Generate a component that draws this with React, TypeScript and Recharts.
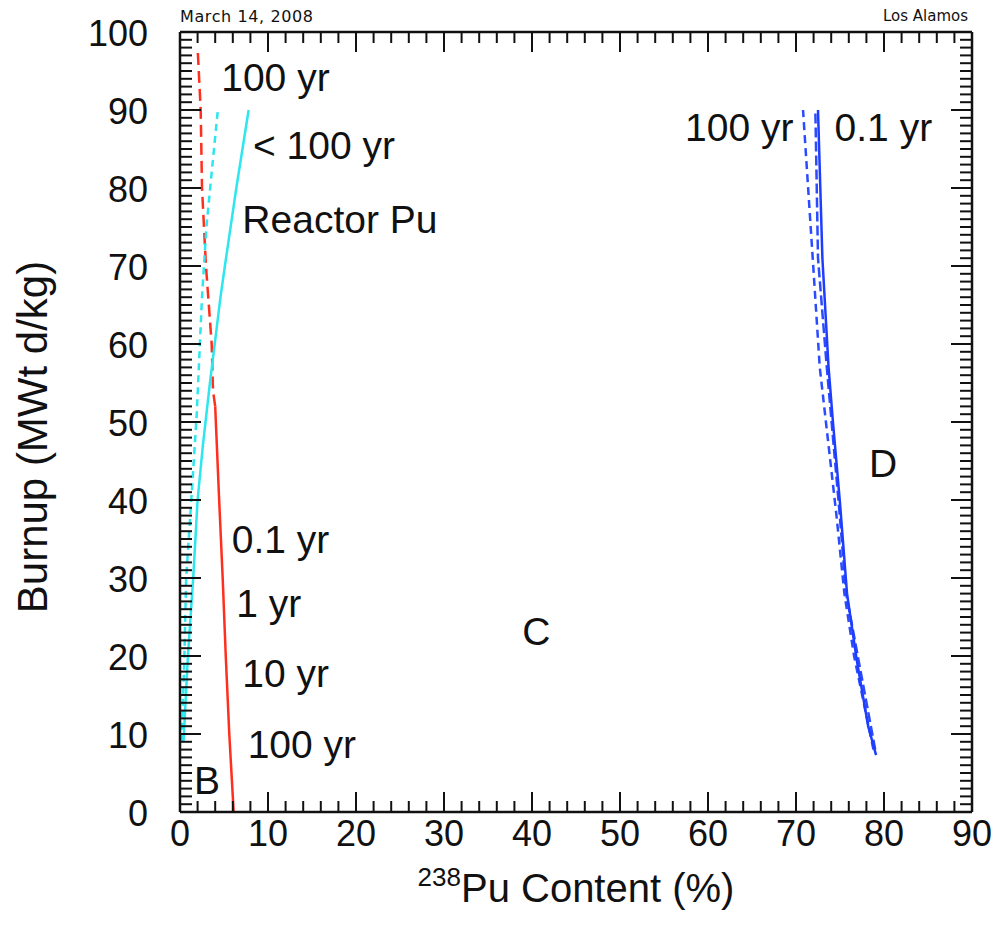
import React from "react";
import { LineChart, Line, XAxis, YAxis, ReferenceDot } from "recharts";

// major tick labels; minor ticks are filled in between
const xMajorTicks = [0, 10, 20, 30, 40, 50, 60, 70, 80, 90];
const yMajorTicks = [0, 10, 20, 30, 40, 50, 60, 70, 80, 90, 100];

// Pu-238 content (%) vs burnup (MWt d/kg)
const redSolid = [
  { x: 6.1, y: 0 },
  { x: 5.6, y: 10 },
  { x: 5.2, y: 20 },
  { x: 4.85, y: 30 },
  { x: 4.45, y: 40 },
  { x: 4.0, y: 52 },
];
const redDashed = [
  { x: 4.0, y: 52 },
  { x: 3.75, y: 54 },
  { x: 3.6, y: 60 },
  { x: 2.95, y: 70 },
  { x: 2.5, y: 80 },
  { x: 2.35, y: 90 },
  { x: 2.0, y: 98 },
];
const cyanSolid = [
  { x: 0.4, y: 9 },
  { x: 0.9, y: 20 },
  { x: 1.5, y: 30 },
  { x: 2.0, y: 40 },
  { x: 2.6, y: 47 },
  { x: 3.4, y: 55 },
  { x: 4.6, y: 66 },
  { x: 5.1, y: 70 },
  { x: 6.4, y: 80 },
  { x: 7.8, y: 90 },
];
const cyanDashed = [
  { x: 0.2, y: 9 },
  { x: 0.5, y: 20 },
  { x: 0.7, y: 30 },
  { x: 1.4, y: 42 },
  { x: 1.9, y: 51 },
  { x: 2.1, y: 56 },
  { x: 2.5, y: 66 },
  { x: 3.0, y: 75 },
  { x: 3.6, y: 82 },
  { x: 4.3, y: 90 },
];
const blueSolid = [
  { x: 79.1, y: 7.3 },
  { x: 78.2, y: 11 },
  { x: 76.9, y: 19.5 },
  { x: 75.8, y: 28 },
  { x: 75.0, y: 39.6 },
  { x: 74.2, y: 50 },
  { x: 73.7, y: 57 },
  { x: 73.0, y: 71 },
  { x: 72.5, y: 90 },
];
const blueDashed100 = [
  { x: 78.8, y: 8 },
  { x: 76.6, y: 20 },
  { x: 75.5, y: 28 },
  { x: 74.6, y: 38 },
  { x: 73.9, y: 45 },
  { x: 72.7, y: 57 },
  { x: 71.9, y: 71 },
  { x: 70.8, y: 90 },
];
const blueDashedMid = [
  { x: 79.0, y: 8 },
  { x: 75.7, y: 28 },
  { x: 74.9, y: 39 },
  { x: 73.5, y: 57 },
  { x: 72.5, y: 71 },
  { x: 72.2, y: 90 },
];

// text annotations, anchored at their left edge (data coords)
const annotations = [
  { x: 4.8, y: 94.2, text: "100 yr" },
  { x: 8.4, y: 85.5, text: "< 100 yr" },
  { x: 7.2, y: 75.9, text: "Reactor Pu" },
  { x: 6.0, y: 34.9, text: "0.1 yr" },
  { x: 6.5, y: 26.7, text: "1 yr" },
  { x: 7.2, y: 17.8, text: "10 yr" },
  { x: 7.8, y: 8.6, text: "100 yr" },
  { x: 1.7, y: 4.1, text: "B" },
  { x: 39, y: 23.1, text: "C" },
  { x: 78.4, y: 44.7, text: "D" },
  { x: 57.5, y: 87.7, text: "100 yr" },
  { x: 74.5, y: 87.7, text: "0.1 yr" },
];

const xTicks = Array.from({ length: 46 }, (_, i) => i * 2);
const yTicks = Array.from({ length: 101 }, (_, i) => i);

const FONT = "'Liberation Sans', Arial, sans-serif";
const SMALL_FONT = "'DejaVu Sans', sans-serif";
const INK = "#111";
const TICK = 36;
const NOTE = 39;

const BottomTick = ({ x, y, payload }: any) => {
  const major = xMajorTicks.includes(payload.value);
  return (
    <g>
      <line x1={x} y1={y} x2={x} y2={y - (major ? 20 : 11)} stroke={INK} strokeWidth={2} />
      {major && (
        <text x={x} y={y + 21} textAnchor="middle" dominantBaseline="central" fontFamily={FONT} fontSize={TICK} fill={INK}>
          {payload.value}
        </text>
      )}
    </g>
  );
};

const TopTick = ({ x, y, payload }: any) => {
  const major = xMajorTicks.includes(payload.value);
  return <line x1={x} y1={y} x2={x} y2={y + (major ? 20 : 11)} stroke={INK} strokeWidth={2} />;
};

const LeftTick = ({ x, y, payload }: any) => {
  const major = yMajorTicks.includes(payload.value);
  return (
    <g>
      <line x1={x} y1={y} x2={x + (major ? 21 : 12)} y2={y} stroke={INK} strokeWidth={2} />
      {major && (
        <text x={x - 32} y={y + 1} textAnchor="end" dominantBaseline="central" fontFamily={FONT} fontSize={TICK} fill={INK}>
          {payload.value}
        </text>
      )}
    </g>
  );
};

const RightTick = ({ x, y, payload }: any) => {
  const major = yMajorTicks.includes(payload.value);
  return <line x1={x} y1={y} x2={x - (major ? 21 : 12)} y2={y} stroke={INK} strokeWidth={2} />;
};

const XTitle = ({ viewBox }: any) => {
  const cx = viewBox.x + viewBox.width / 2;
  return (
    <text x={cx} y={viewBox.y + 90} textAnchor="middle" fontFamily={FONT} fontSize={40} fill={INK}>
      <tspan fontSize={26} dy={-16}>238</tspan>
      <tspan dy={16}>Pu Content (%)</tspan>
    </text>
  );
};

const YTitle = ({ viewBox }: any) => {
  const cx = 32;
  const cy = viewBox.y + viewBox.height / 2 + 15;
  return (
    <text x={cx} y={cy} transform={`rotate(-90 ${cx} ${cy})`} textAnchor="middle" dominantBaseline="central" fontFamily={FONT} fontSize={42} fill={INK}>
      Burnup (MWt d/kg)
    </text>
  );
};

const series = [
  { data: redSolid, color: "#ff2f1f", dash: undefined },
  { data: redDashed, color: "#ff2f1f", dash: "12 6" },
  { data: cyanDashed, color: "#2ee6ee", dash: "7 5" },
  { data: cyanSolid, color: "#2ee6ee", dash: undefined },
  { data: blueDashed100, color: "#2a4bff", dash: "8 5" },
  { data: blueDashedMid, color: "#2a4bff", dash: "10 4" },
  { data: blueSolid, color: "#1f3dff", dash: undefined },
];

export default function App() {
  return (
    <div style={{ position: "absolute", left: 0, top: 0, width: 995, height: 941, background: "#fff" }}>
      <div style={{ position: "absolute", left: 180, top: 7, fontFamily: SMALL_FONT, fontSize: 16, letterSpacing: 0.6, color: INK }}>
        March 14, 2008
      </div>
      <div style={{ position: "absolute", right: 27, top: 7, fontFamily: SMALL_FONT, fontSize: 15, color: INK }}>
        Los Alamos
      </div>
      <LineChart width={995} height={941} margin={{ top: 31, right: 22, bottom: 29, left: 20 }}>
        <XAxis
          xAxisId="b"
          type="number"
          dataKey="x"
          domain={[0, 90]}
          ticks={xTicks}
          interval={0}
          tickSize={0}
          tickMargin={0}
          tick={<BottomTick />}
          height={100}
          axisLine={{ stroke: INK, strokeWidth: 2.5 }}
          allowDataOverflow
          label={<XTitle />}
        />
        <XAxis
          xAxisId="t"
          orientation="top"
          type="number"
          dataKey="x"
          domain={[0, 90]}
          ticks={xTicks}
          interval={0}
          tickSize={0}
          tickMargin={0}
          tick={<TopTick />}
          height={1}
          axisLine={{ stroke: INK, strokeWidth: 2.5 }}
          allowDataOverflow
        />
        <YAxis
          yAxisId="l"
          type="number"
          domain={[0, 100]}
          ticks={yTicks}
          interval={0}
          tickSize={0}
          tickMargin={0}
          tick={<LeftTick />}
          width={160}
          axisLine={{ stroke: INK, strokeWidth: 2.5 }}
          allowDataOverflow
          label={<YTitle />}
        />
        <YAxis
          yAxisId="r"
          orientation="right"
          type="number"
          domain={[0, 100]}
          ticks={yTicks}
          interval={0}
          tickSize={0}
          tickMargin={0}
          tick={<RightTick />}
          width={1}
          axisLine={{ stroke: INK, strokeWidth: 2.5 }}
          allowDataOverflow
        />
        {series.map((s, i) => (
          <Line
            key={i}
            xAxisId="b"
            yAxisId="l"
            data={s.data}
            dataKey="y"
            type="linear"
            stroke={s.color}
            strokeWidth={2.5}
            strokeDasharray={s.dash}
            dot={false}
            activeDot={false}
            isAnimationActive={false}
          />
        ))}
        {annotations.map((a, i) => (
          <ReferenceDot
            key={"a" + i}
            xAxisId="b"
            yAxisId="l"
            x={a.x}
            y={a.y}
            r={1}
            fill="none"
            stroke="none"
            label={(p: any) => (
              <text
                x={p.viewBox.x}
                y={p.viewBox.y + 1}
                dominantBaseline="central"
                fontFamily={FONT}
                fontSize={NOTE}
                fill={INK}
              >
                {a.text}
              </text>
            )}
          />
        ))}
      </LineChart>
    </div>
  );
}
